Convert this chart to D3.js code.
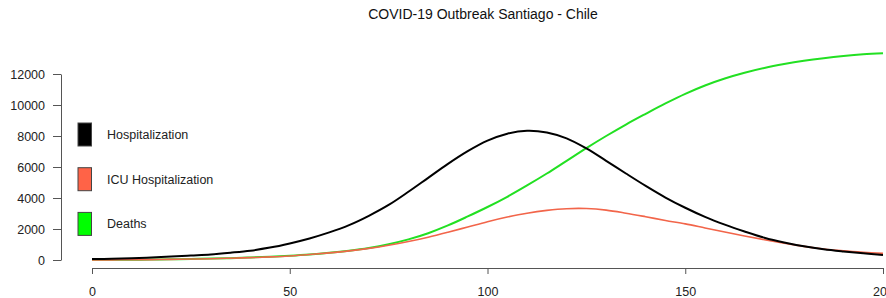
<!DOCTYPE html>
<html>
<head>
<meta charset="utf-8">
<script src="https://cdn.jsdelivr.net/npm/d3@7.9.0/dist/d3.min.js"></script>
<style>
  body { margin: 0; background: #fff; }
  svg { display: block; font-family: "Liberation Sans", Arial, sans-serif; }
  .axis path, .axis line { stroke: #555; }
  .axis text { fill: #222; font-size: 12.5px; }
</style>
</head>
<body>
<svg width="886" height="298"></svg>
<script>
// days since start, every 5 days
const days = d3.range(0, 201, 5);

// values
const hospitalization = [60, 80, 110, 160, 220, 290, 360, 470, 600, 800,
  1070, 1390, 1780, 2250, 2850, 3550, 4400, 5300, 6200, 7020,
  7700, 8150, 8340, 8230, 7850, 7200, 6400, 5580, 4780, 4030,
  3370, 2780, 2280, 1840, 1440, 1130, 880, 690, 550, 430, 330];

const icuHospitalization = [5, 10, 15, 25, 40, 60, 85, 115, 155, 200,
  260, 350, 460, 590, 750, 950, 1190, 1470, 1790, 2130,
  2470, 2770, 3020, 3200, 3310, 3320, 3220, 3020, 2790, 2550,
  2330, 2070, 1810, 1550, 1310, 1090, 880, 710, 590, 500, 430];

const deaths = [10, 15, 20, 30, 45, 65, 90, 120, 160, 210,
  270, 350, 460, 600, 780, 1020, 1330, 1730, 2230, 2810,
  3420, 4080, 4810, 5580, 6400, 7220, 8000, 8740, 9430, 10100,
  10720, 11260, 11710, 12080, 12390, 12640, 12850, 13020, 13160, 13270, 13340];

const seriesNames = ["Hospitalization", "ICU Hospitalization", "Deaths"];
const seriesColors = ["#000000", "#ff6347", "#00ff00"];
const lineColors = ["#000000", "#f2654a", "#22e022"];
const lineWidths = [2, 1.6, 2];

const xTicks = [0, 50, 100, 150, 200];
const yTicks = [0, 2000, 4000, 6000, 8000, 10000, 12000];

const svg = d3.select("svg");

const x = d3.scaleLinear().domain([0, 200]).range([92, 883]);
const y = d3.scaleLinear().domain([0, 12000]).range([260, 74]);

// title
svg.append("text")
  .attr("x", 483)
  .attr("y", 19)
  .attr("text-anchor", "middle")
  .attr("font-size", "14px")
  .attr("fill", "#111")
  .text("COVID-19 Outbreak Santiago - Chile");

// axes (R style, detached)
svg.append("g")
  .attr("class", "axis")
  .attr("transform", "translate(61,0)")
  .call(d3.axisLeft(y).tickValues(yTicks).tickFormat(d3.format("d"))
    .tickSize(8).tickSizeOuter(0).tickPadding(8));

svg.append("g")
  .attr("class", "axis")
  .attr("transform", "translate(0,268)")
  .call(d3.axisBottom(x).tickValues(xTicks).tickFormat(d3.format("d"))
    .tickSize(6).tickSizeOuter(0).tickPadding(13));

// lines
const allSeries = [hospitalization, icuHospitalization, deaths];
const line = d3.line()
  .x((d, i) => x(days[i]))
  .y((d) => y(d))
  .curve(d3.curveCatmullRom);

// draw deaths first, then icu, then hospitalization on top
[2, 1, 0].forEach((idx) => {
  svg.append("path")
    .datum(allSeries[idx])
    .attr("d", line)
    .attr("fill", "none")
    .attr("stroke", lineColors[idx])
    .attr("stroke-width", lineWidths[idx])
    .attr("stroke-linejoin", "round");
});

// legend
const legend = svg.append("g");
seriesNames.forEach((name, idx) => {
  let cy = 134.5 + idx * 44.7;
  legend.append("rect")
    .attr("x", 78)
    .attr("y", cy - 11.5)
    .attr("width", 13.5)
    .attr("height", 23)
    .attr("fill", seriesColors[idx])
    .attr("stroke", "#444")
    .attr("stroke-width", 1);
  legend.append("text")
    .attr("x", 107)
    .attr("y", cy)
    .attr("dy", "0.35em")
    .attr("font-size", "12.5px")
    .attr("fill", "#222")
    .text(name);
});
</script>
</body>
</html>
